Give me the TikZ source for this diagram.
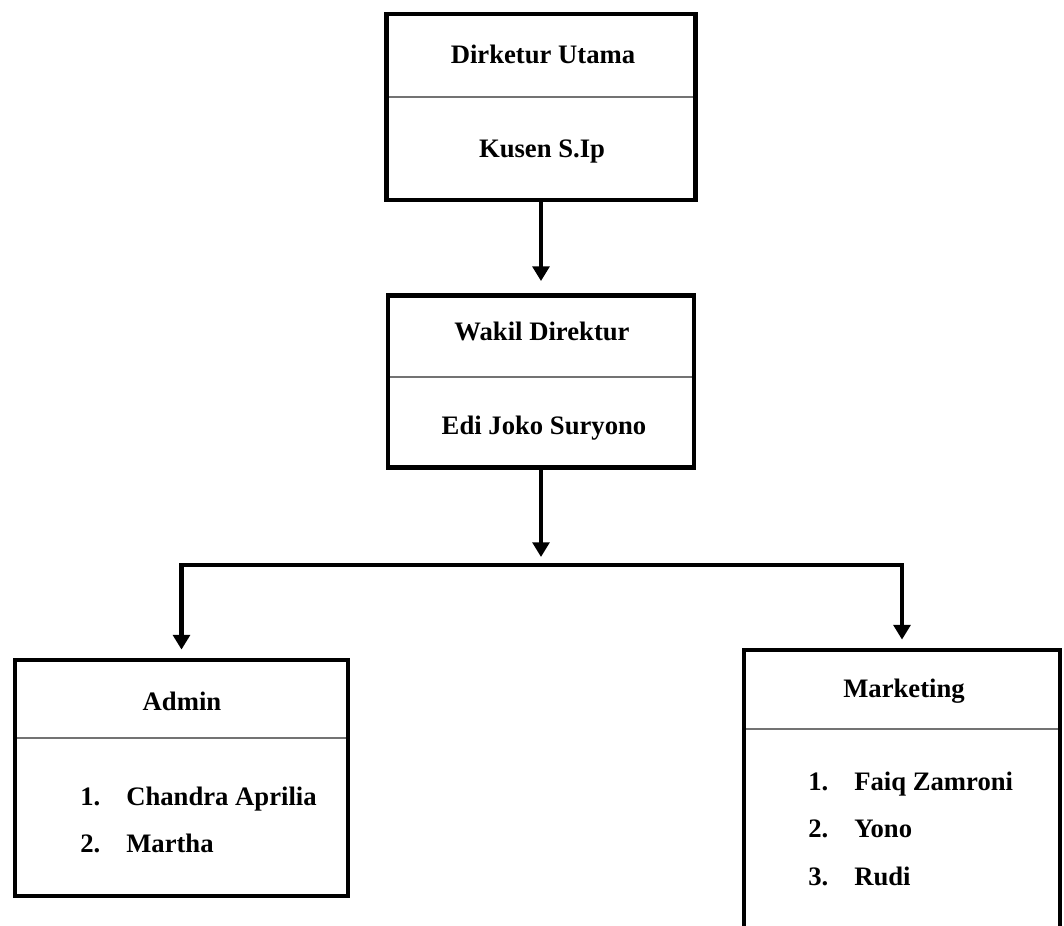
\documentclass[tikz,border=0pt]{standalone}
\usepackage{fontspec}
\setmainfont{Liberation Serif}
\usetikzlibrary{positioning, arrows.meta}

\begin{document}
\begin{tikzpicture}[x=0.75pt, y=-0.75pt,
        box/.style = {draw, rectangle, line width=3.6pt, inner sep=0pt},
        divider/.style = {draw=black!55, line width=1.2pt,
                        shorten <=3.6pt, shorten >=3.6pt},
        txt/.style = {font=\fontsize{20}{24}\selectfont\bfseries,
                        inner sep=0pt, anchor=base},
        item/.style = {txt, anchor=base west},
        arr/.style = {line width=3.3pt, shorten >=6pt,
                        -{Triangle[width=12.5pt, length=11pt]}}]
        \clip (0,0) rectangle (1064,925);

        \node[box, minimum width=231.75pt, minimum height=139.5pt] (dirut) at (541,107) {};
        \node[box, minimum width=229.5pt, minimum height=129pt] (wakil) [below=68pt of dirut] {};
        \node[box, minimum width=249.75pt, minimum height=177pt] (admin) at (181.5,778) {};
        \node[box, minimum width=237pt, minimum height=262.5pt] (market) at (902,825) {};

        \draw[divider] (dirut.west |- 0,97) -- (dirut.east |- 0,97);
        \draw[divider] (wakil.west |- 0,377) -- (wakil.east |- 0,377);
        \draw[divider] (admin.west |- 0,738) -- (admin.east |- 0,738);
        \draw[divider] (market.west |- 0,729) -- (market.east |- 0,729);

        \node[txt] (dirutjab) at (543,63) {Dirketur Utama};
        \node[txt] (dirutnama) at (542,157) {Kusen S.Ip};
        \node[txt] (wakiljab) at (542,340) {Wakil Direktur};
        \node[txt] (wakilnama) at (544,434) {Edi Joko Suryono};

        \node[txt] (adminjab) at (182,710) {Admin};
        \node[item] (admin1) at (80,805) {1.};
        \node[item] (admin1n) at (126,805) {Chandra Aprilia};
        \node[item] (admin2) at (80,852) {2.};
        \node[item] (admin2n) at (126,852) {Martha};

        \node[txt] (marketjab) at (904,697) {Marketing};
        \node[item] (market1) at (808,790) {1.};
        \node[item] (market1n) at (854,790) {Faiq Zamroni};
        \node[item] (market2) at (808,837) {2.};
        \node[item] (market2n) at (854,837) {Yono};
        \node[item] (market3) at (808,885) {3.};
        \node[item] (market3n) at (854,885) {Rudi};

        \coordinate (bus) at (541,565);
        \draw[arr, shorten >=9pt] (dirut) -- (wakil);
        \draw[arr] (wakil) -- (bus);
        \draw[arr] (bus) -| (admin);
        \draw[arr] (bus) -| (market);
    \end{tikzpicture}
\end{document}
